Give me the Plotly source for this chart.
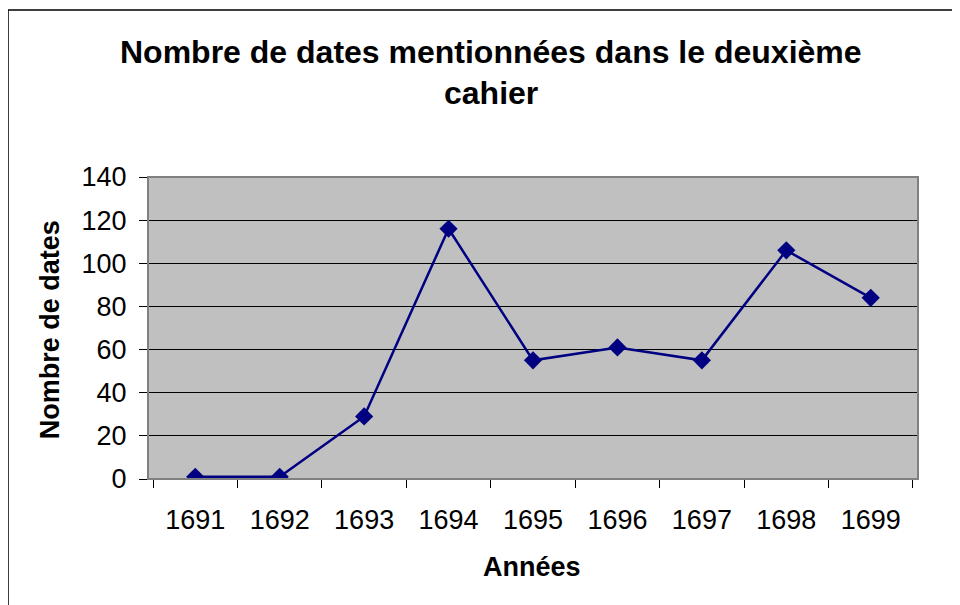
import plotly.graph_objects as go

years = ['1691', '1692', '1693', '1694', '1695', '1696', '1697', '1698', '1699']
counts = [1, 1, 29, 116, 55, 61, 55, 106, 84]
y_ticks = [0, 20, 40, 60, 80, 100, 120, 140]

font = 'Liberation Sans, Arial, sans-serif'

fig = go.Figure(go.Scatter(
    x=years, y=counts, mode='lines+markers',
    line={'color': '#000080', 'width': 2.5},
    marker={'symbol': 'diamond', 'size': 14, 'color': '#000080'},
    showlegend=False))

# page body has an 8px margin, so the figure is a bit smaller than the window
fig.update_layout(
    width=952, height=597,
    margin={'l': 140, 'r': 42, 't': 169, 'b': 126},
    paper_bgcolor='white', plot_bgcolor='#c0c0c0',
    font={'family': font, 'size': 27, 'color': 'black'},
    xaxis={'type': 'category', 'tickson': 'boundaries', 'ticks': 'outside',
           'ticklen': 8, 'tickcolor': 'black', 'showgrid': False,
           'showline': True, 'linecolor': 'black', 'linewidth': 1,
           'ticklabelstandoff': 17},
    yaxis={'range': [0, 140], 'tickvals': y_ticks, 'ticks': 'outside',
           'ticklen': 8, 'tickcolor': 'black', 'showgrid': True,
           'gridcolor': 'black', 'gridwidth': 1, 'zeroline': False,
           'showline': True, 'linecolor': 'black', 'linewidth': 1,
           'ticklabelstandoff': 7},
)

# gray plot border
fig.add_shape(type='rect', xref='paper', yref='paper', x0=0, y0=0, x1=1, y1=1,
              line={'color': '#808080', 'width': 2}, layer='above')
# outer chart frame
fig.add_shape(type='rect', xref='paper', yref='paper', x0=-0.1818, y0=-0.45,
              x1=1.1, y1=1.553, line={'color': 'black', 'width': 1.5})

ann = {'xref': 'paper', 'yref': 'paper', 'showarrow': False,
       'xanchor': 'center', 'yanchor': 'middle'}
fig.add_annotation(text='<b>Nombre de dates mentionnées dans le deuxième</b>',
                   x=0.445, y=1.414, font={'size': 32}, **ann)
fig.add_annotation(text='<b>cahier</b>', x=0.445, y=1.278,
                   font={'size': 32}, **ann)
fig.add_annotation(text='<b>Nombre de dates</b>', x=-0.127, y=0.493,
                   textangle=-90, font={'size': 27}, **ann)
fig.add_annotation(text='<b>Années</b>', x=0.499, y=-0.291,
                   font={'size': 27}, **ann)

fig.write_html('out.html')
